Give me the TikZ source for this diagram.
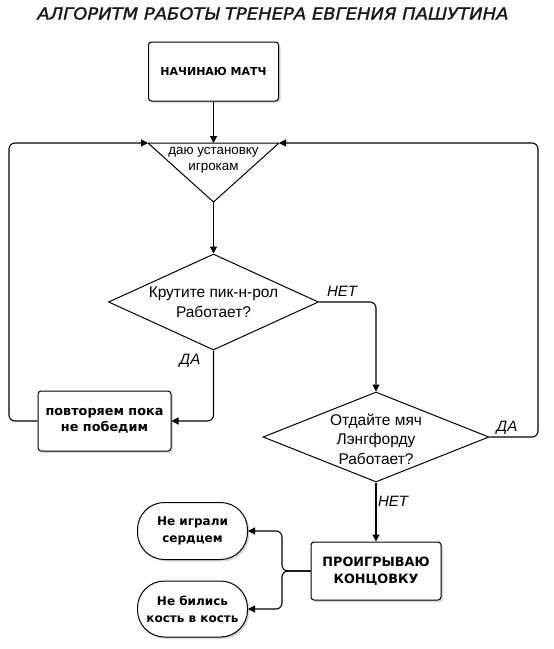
\documentclass[tikz,border=0pt]{standalone}
\usepackage{fontspec}
\setmainfont{Liberation Sans}
\newfontfamily\vbf{DejaVu Sans}[ItalicFont={DejaVu Sans Oblique},BoldFont={DejaVu Sans Bold},BoldItalicFont={DejaVu Sans Bold Oblique}]
\newfontfamily\ttlf{DejaVu Sans Oblique}[FakeStretch=1.09,FakeBold=1.6]
\usetikzlibrary{shapes.geometric,arrows.meta,shadows}
\begin{document}
\begin{tikzpicture}[x=1pt,y=-1pt,
  line/.style={line width=1.1pt},
  arr/.style={line,-{Triangle[length=7pt,width=7pt]}},
  shad/.style={drop shadow={shadow xshift=2pt,shadow yshift=-2pt,opacity=0.25,fill=black!60}},
  box/.style={draw,line width=1pt,rounded corners=3pt,fill=white,inner sep=0pt,align=center,shad,
    font=\vbf\bfseries\fontsize{11}{16}\selectfont},
  term/.style={draw,line width=1pt,rounded corners=27pt,fill=white,inner sep=0pt,align=center,shad,
    minimum width=110pt,font=\vbf\bfseries\fontsize{12}{17}\selectfont},
  dia/.style={draw,diamond,line width=1pt,fill=white,inner sep=0pt},
  txt/.style={align=center,font=\fontsize{15.5}{19.5}\selectfont},
  lbl/.style={font=\itshape\fontsize{15}{17}\selectfont},
  title/.style={font=\ttlf\fontsize{16.5}{20}\selectfont,text=black!90}
]
\useasboundingbox (0,0) rectangle (554,649);
\fill[white] (0,0) rectangle (554,649);
% title
\node[title] (ttl) at (273,13.5) {АЛГОРИТМ РАБОТЫ ТРЕНЕРА ЕВГЕНИЯ ПАШУТИНА};
% start box
\node[box,minimum width=130pt,minimum height=59pt] (b1) at (213.5,71.5) {НАЧИНАЮ МАТЧ};
% triangle
\coordinate (triL) at (148,143);
\coordinate (triR) at (279,143);
\coordinate (triT) at (213.5,143);
\coordinate (triB) at (213.5,202);
\filldraw[fill=white,line width=1pt,line join=round] (triL) -- (triR) -- (triB) -- cycle;
\node[txt,font=\fontsize{13.4}{16}\selectfont] (tri) at (213.5,160) {даю установку\\игрокам};
% diamonds
\node[dia,minimum width=210pt,minimum height=96pt] (d1) at (213.5,302) {};
\node[txt] (d1t) at (213.5,302) {Крутите пик-н-рол\\Работает?};
\node[dia,minimum width=226pt,minimum height=90pt] (d2) at (376,437) {};
\node[txt] (d2t) at (376,439) {Отдайте мяч\\Лэнгфорду\\Работает?};
% boxes
\node[box,minimum width=133pt,minimum height=60pt,font=\vbf\bfseries\fontsize{12.8}{16}\selectfont] (b2) at (104.5,421) {повторяем пока\\не победим};
\node[box,minimum width=130pt,minimum height=58pt,font=\vbf\bfseries\fontsize{12.8}{17}\selectfont] (b3) at (376,571) {ПРОИГРЫВАЮ\\КОНЦОВКУ};
% terminals
\node[term,minimum height=57pt] (e1) at (192.5,531) {Не играли\\сердцем};
\node[term,minimum height=56pt] (e2) at (192.5,609) {Не бились\\кость в кость};
% helper coordinates
\coordinate (lx) at (9,0);
\coordinate (rx) at (538,0);
\coordinate (bx) at (282,0);
% connectors
\draw[arr] (b1.south) -- (triT);
\draw[arr] (triB) -- (d1.north);
\draw[arr,rounded corners=6pt] (d1.east) -| (d2.north);
\draw[arr,rounded corners=6pt] (d1.south) |- (b2.east);
\draw[arr,rounded corners=6pt] (b2.west) -- (b2.west -| lx) -- (lx |- triL) -- (triL);
\draw[arr,rounded corners=6pt] (d2.east) -- (d2.east -| rx) -- (rx |- triR) -- (triR);
\draw[arr] (d2.south) -- (b3.north);
\draw[arr,rounded corners=6pt] (b3.west) -- (b3.west -| bx) -- (bx |- e1.east) -- (e1.east);
\draw[arr,rounded corners=6pt] (b3.west) -- (b3.west -| bx) -- (bx |- e2.east) -- (e2.east);
% labels
\node[lbl] (l1) at (342,291) {НЕТ};
\node[lbl] (l2) at (190,361) {ДА};
\node[lbl] (l3) at (507,428) {ДА};
\node[lbl] (l4) at (393,501) {НЕТ};
\end{tikzpicture}
\end{document}
